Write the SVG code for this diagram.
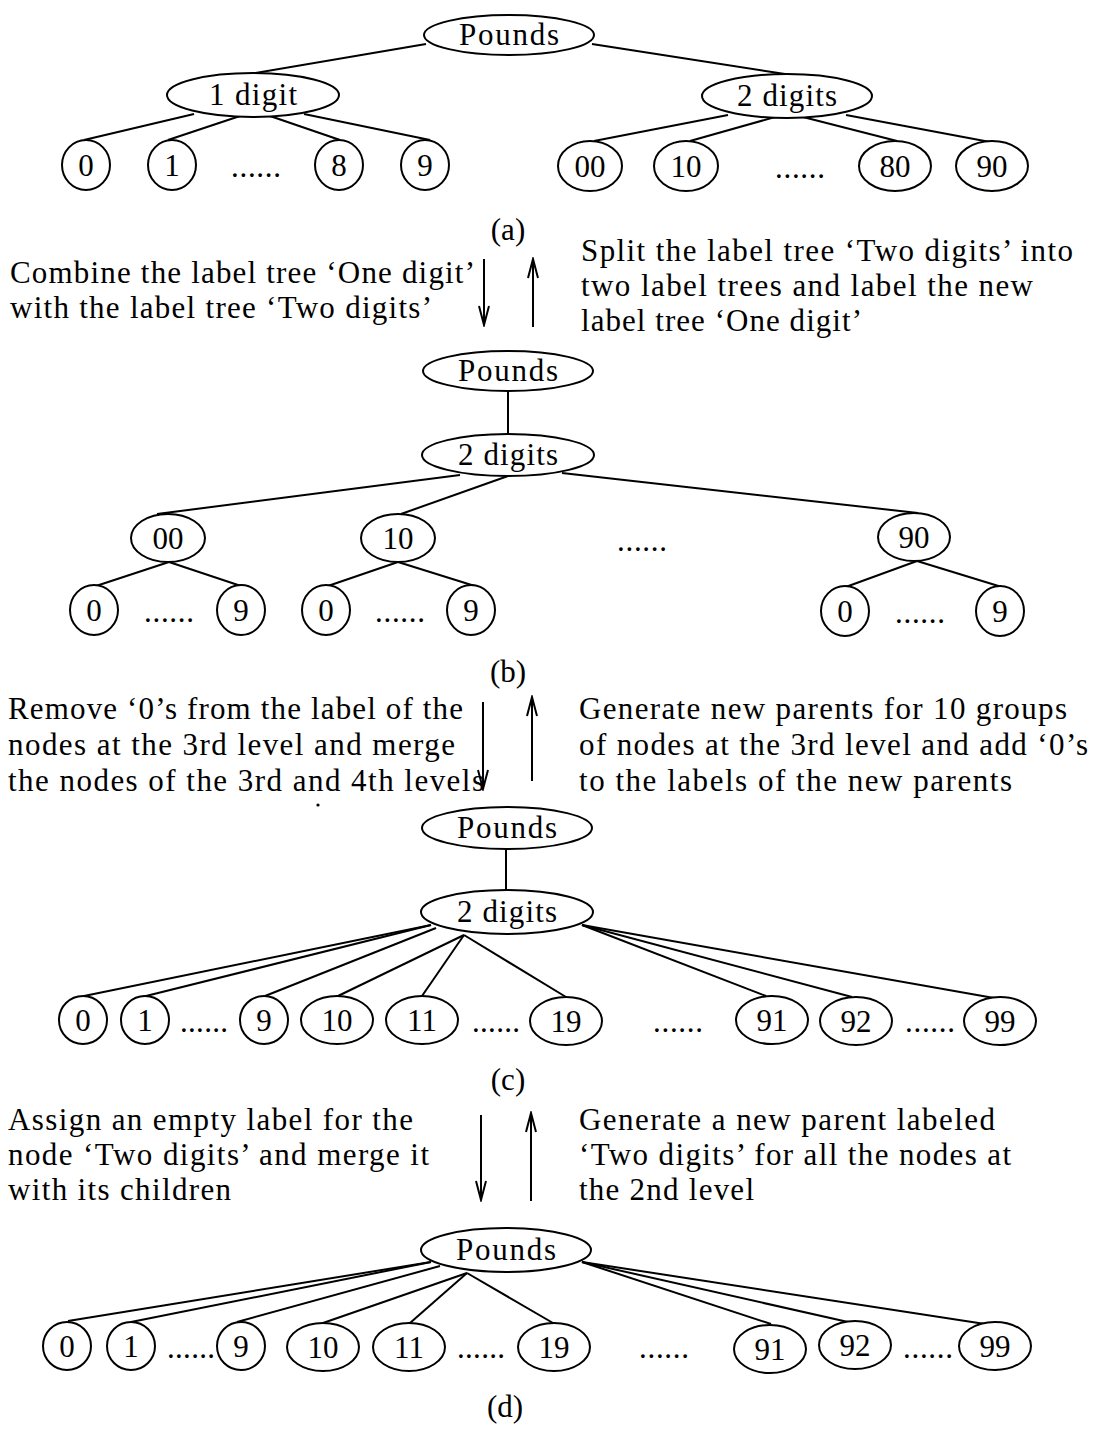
<svg xmlns="http://www.w3.org/2000/svg" width="1101" height="1429" viewBox="0 0 1101 1429">
<defs>
<style>
.n{fill:#fff;stroke:#000;stroke-width:2}
.e{stroke:#000;stroke-width:2;fill:none}
.l{font-family:"Liberation Serif","Times New Roman",serif;font-size:31px;text-anchor:middle;fill:#000}
.p{font-family:"Liberation Serif","Times New Roman",serif;font-size:31px;fill:#000}
</style>
<marker id="ah" markerUnits="userSpaceOnUse" markerWidth="22" markerHeight="14" viewBox="-20 -7 22 14" refX="0" refY="0" orient="auto">
<path d="M-19,-5 L0,0 L-19,5" fill="none" stroke="#000" stroke-width="2"/>
</marker>
</defs>
<rect width="1101" height="1429" fill="#fff"/>

<g id="connectors">
<!-- (a) -->
<line class="e" x1="426" y1="44" x2="250" y2="74"/>
<line class="e" x1="592" y1="44" x2="785" y2="74"/>
<line class="e" x1="194" y1="114" x2="84" y2="140"/>
<line class="e" x1="240" y1="116" x2="168" y2="140"/>
<line class="e" x1="270" y1="116" x2="340" y2="140"/>
<line class="e" x1="304" y1="114" x2="430" y2="140"/>
<line class="e" x1="728" y1="115" x2="594" y2="141"/>
<line class="e" x1="775" y1="117" x2="690" y2="141"/>
<line class="e" x1="803" y1="117" x2="897" y2="141"/>
<line class="e" x1="846" y1="115" x2="990" y2="142"/>
<!-- (b) -->
<line class="e" x1="508" y1="391" x2="508" y2="434"/>
<line class="e" x1="460" y1="475" x2="157" y2="514"/>
<line class="e" x1="508" y1="476" x2="401" y2="514"/>
<line class="e" x1="562" y1="473" x2="918" y2="513"/>
<line class="e" x1="169" y1="562" x2="96" y2="586"/>
<line class="e" x1="169" y1="562" x2="244" y2="587"/>
<line class="e" x1="398" y1="562" x2="325" y2="587"/>
<line class="e" x1="398" y1="562" x2="478" y2="587"/>
<line class="e" x1="917" y1="561" x2="843" y2="588"/>
<line class="e" x1="917" y1="561" x2="1005" y2="588"/>
<!-- (c) -->
<line class="e" x1="506" y1="849" x2="506" y2="891"/>
<line class="e" x1="431" y1="925" x2="84" y2="996"/>
<line class="e" x1="431" y1="925" x2="142" y2="997"/>
<line class="e" x1="436" y1="928" x2="265" y2="996"/>
<line class="e" x1="464" y1="935" x2="338" y2="996"/>
<line class="e" x1="464" y1="935" x2="422" y2="996"/>
<line class="e" x1="464" y1="935" x2="566" y2="997"/>
<line class="e" x1="582" y1="925" x2="766" y2="996"/>
<line class="e" x1="582" y1="925" x2="852" y2="997"/>
<line class="e" x1="582" y1="925" x2="994" y2="998"/>
<!-- (d) -->
<line class="e" x1="431" y1="1262" x2="68" y2="1321"/>
<line class="e" x1="431" y1="1262" x2="131" y2="1322"/>
<line class="e" x1="440" y1="1266" x2="237" y2="1322"/>
<line class="e" x1="467" y1="1273" x2="323" y2="1323"/>
<line class="e" x1="467" y1="1273" x2="410" y2="1323"/>
<line class="e" x1="467" y1="1273" x2="553" y2="1323"/>
<line class="e" x1="582" y1="1262" x2="771" y2="1324"/>
<line class="e" x1="582" y1="1262" x2="848" y2="1322"/>
<line class="e" x1="582" y1="1262" x2="985" y2="1324"/>
</g>

<g id="transition-arrows">
<line class="e" x1="484" y1="259" x2="484" y2="325" marker-end="url(#ah)"/>
<line class="e" x1="533" y1="327" x2="533" y2="259" marker-end="url(#ah)"/>
<line class="e" x1="483" y1="702" x2="483" y2="789" marker-end="url(#ah)"/>
<line class="e" x1="532" y1="781" x2="532" y2="697" marker-end="url(#ah)"/>
<line class="e" x1="481" y1="1115" x2="481" y2="1200" marker-end="url(#ah)"/>
<line class="e" x1="531" y1="1201" x2="531" y2="1113" marker-end="url(#ah)"/>
</g>

<!-- (a) nodes -->
<g id="a-pounds"><ellipse class="n" cx="509" cy="35" rx="85" ry="20"/><text class="l" x="509" y="45" textLength="100">Pounds</text></g>
<g id="a-1digit"><ellipse class="n" cx="253" cy="95" rx="86" ry="22"/><text class="l" x="253" y="105" textLength="88">1 digit</text></g>
<g id="a-2digits"><ellipse class="n" cx="787" cy="96" rx="85" ry="22"/><text class="l" x="787" y="106" textLength="100">2 digits</text></g>
<g id="a-0"><ellipse class="n" cx="86" cy="165" rx="24" ry="25"/><text class="l" x="86" y="176">0</text></g>
<g id="a-1"><ellipse class="n" cx="172" cy="165" rx="24" ry="25"/><text class="l" x="172" y="176">1</text></g>
<g id="a-dots1"><text class="l" x="256" y="177" textLength="50">......</text></g>
<g id="a-8"><ellipse class="n" cx="339" cy="165" rx="24" ry="25"/><text class="l" x="339" y="176">8</text></g>
<g id="a-9"><ellipse class="n" cx="425" cy="165" rx="24" ry="25"/><text class="l" x="425" y="176">9</text></g>
<g id="a-00"><ellipse class="n" cx="590" cy="166" rx="32" ry="25"/><text class="l" x="590" y="177">00</text></g>
<g id="a-10"><ellipse class="n" cx="686" cy="166" rx="32" ry="25"/><text class="l" x="686" y="177">10</text></g>
<g id="a-dots2"><text class="l" x="800" y="178" textLength="50">......</text></g>
<g id="a-80"><ellipse class="n" cx="895" cy="166" rx="36" ry="25"/><text class="l" x="895" y="177">80</text></g>
<g id="a-90"><ellipse class="n" cx="992" cy="166" rx="36" ry="25"/><text class="l" x="992" y="177">90</text></g>
<text class="l" x="508" y="240">(a)</text>

<g id="text-a-b">
<text class="p" x="10" y="283" textLength="465">Combine the label tree ‘One digit’</text>
<text class="p" x="10" y="318" textLength="422">with the label tree ‘Two digits’</text>
<text class="p" x="581" y="261" textLength="492">Split the label tree ‘Two digits’ into</text>
<text class="p" x="581" y="296" textLength="452">two label trees and label the new</text>
<text class="p" x="581" y="331" textLength="281">label tree ‘One digit’</text>
</g>

<!-- (b) nodes -->
<g id="b-pounds"><ellipse class="n" cx="508" cy="371" rx="85" ry="20"/><text class="l" x="508" y="381" textLength="100">Pounds</text></g>
<g id="b-2digits"><ellipse class="n" cx="508" cy="455" rx="86" ry="21"/><text class="l" x="508" y="465" textLength="100">2 digits</text></g>
<g id="b-00"><ellipse class="n" cx="168" cy="538" rx="37" ry="24"/><text class="l" x="168" y="549">00</text></g>
<g id="b-10"><ellipse class="n" cx="398" cy="538" rx="37" ry="24"/><text class="l" x="398" y="549">10</text></g>
<g id="b-dots-mid"><text class="l" x="642" y="551" textLength="50">......</text></g>
<g id="b-90"><ellipse class="n" cx="914" cy="537" rx="36" ry="24"/><text class="l" x="914" y="548">90</text></g>
<g id="b-00-0"><ellipse class="n" cx="94" cy="610" rx="24" ry="25"/><text class="l" x="94" y="621">0</text></g>
<g id="b-00-dots"><text class="l" x="169" y="622" textLength="50">......</text></g>
<g id="b-00-9"><ellipse class="n" cx="241" cy="610" rx="24" ry="25"/><text class="l" x="241" y="621">9</text></g>
<g id="b-10-0"><ellipse class="n" cx="326" cy="610" rx="24" ry="25"/><text class="l" x="326" y="621">0</text></g>
<g id="b-10-dots"><text class="l" x="400" y="622" textLength="50">......</text></g>
<g id="b-10-9"><ellipse class="n" cx="471" cy="610" rx="24" ry="25"/><text class="l" x="471" y="621">9</text></g>
<g id="b-90-0"><ellipse class="n" cx="845" cy="611" rx="24" ry="25"/><text class="l" x="845" y="622">0</text></g>
<g id="b-90-dots"><text class="l" x="920" y="623" textLength="50">......</text></g>
<g id="b-90-9"><ellipse class="n" cx="1000" cy="611" rx="24" ry="25"/><text class="l" x="1000" y="622">9</text></g>
<text class="l" x="508" y="682">(b)</text>

<g id="text-b-c">
<text class="p" x="8" y="719" textLength="455">Remove ‘0’s from the label of the</text>
<text class="p" x="8" y="755" textLength="447">nodes at the 3rd level and merge</text>
<text class="p" x="8" y="791" textLength="476">the nodes of the 3rd and 4th levels</text>
<text class="p" x="579" y="719" textLength="488">Generate new parents for 10 groups</text>
<text class="p" x="579" y="755" textLength="509">of nodes at the 3rd level and add ‘0’s</text>
<text class="p" x="579" y="791" textLength="433">to the labels of the new parents</text>
</g>
<circle cx="318" cy="805" r="1.6" fill="#000"/>

<!-- (c) nodes -->
<g id="c-pounds"><ellipse class="n" cx="507" cy="828" rx="85" ry="21"/><text class="l" x="507" y="838" textLength="100">Pounds</text></g>
<g id="c-2digits"><ellipse class="n" cx="507" cy="912" rx="86" ry="22"/><text class="l" x="507" y="922" textLength="100">2 digits</text></g>
<g id="c-0"><ellipse class="n" cx="83" cy="1020" rx="24" ry="24"/><text class="l" x="83" y="1031">0</text></g>
<g id="c-1"><ellipse class="n" cx="145" cy="1020" rx="24" ry="24"/><text class="l" x="145" y="1031">1</text></g>
<g id="c-dots1"><text class="l" x="204" y="1032" textLength="48">......</text></g>
<g id="c-9"><ellipse class="n" cx="264" cy="1020" rx="24" ry="24"/><text class="l" x="264" y="1031">9</text></g>
<g id="c-10"><ellipse class="n" cx="337" cy="1020" rx="36" ry="24"/><text class="l" x="337" y="1031">10</text></g>
<g id="c-11"><ellipse class="n" cx="422" cy="1020" rx="36" ry="24"/><text class="l" x="422" y="1031">11</text></g>
<g id="c-dots2"><text class="l" x="496" y="1032" textLength="48">......</text></g>
<g id="c-19"><ellipse class="n" cx="566" cy="1021" rx="36" ry="24"/><text class="l" x="566" y="1032">19</text></g>
<g id="c-dots3"><text class="l" x="678" y="1032" textLength="50">......</text></g>
<g id="c-91"><ellipse class="n" cx="772" cy="1020" rx="36" ry="24"/><text class="l" x="772" y="1031">91</text></g>
<g id="c-92"><ellipse class="n" cx="856" cy="1021" rx="36" ry="24"/><text class="l" x="856" y="1032">92</text></g>
<g id="c-dots4"><text class="l" x="930" y="1032" textLength="50">......</text></g>
<g id="c-99"><ellipse class="n" cx="1000" cy="1021" rx="36" ry="24"/><text class="l" x="1000" y="1032">99</text></g>
<text class="l" x="508" y="1090">(c)</text>

<g id="text-c-d">
<text class="p" x="8" y="1130" textLength="405">Assign an empty label for the</text>
<text class="p" x="8" y="1165" textLength="421">node ‘Two digits’ and merge it</text>
<text class="p" x="8" y="1200" textLength="223">with its children</text>
<text class="p" x="579" y="1130" textLength="416">Generate a new parent labeled</text>
<text class="p" x="579" y="1165" textLength="432">‘Two digits’ for all the nodes at</text>
<text class="p" x="579" y="1200" textLength="175">the 2nd level</text>
</g>

<!-- (d) nodes -->
<g id="d-pounds"><ellipse class="n" cx="506" cy="1250" rx="85" ry="22"/><text class="l" x="506" y="1260" textLength="100">Pounds</text></g>
<g id="d-0"><ellipse class="n" cx="67" cy="1346" rx="24" ry="24"/><text class="l" x="67" y="1357">0</text></g>
<g id="d-1"><ellipse class="n" cx="131" cy="1346" rx="24" ry="24"/><text class="l" x="131" y="1357">1</text></g>
<g id="d-dots1"><text class="l" x="191" y="1358" textLength="48">......</text></g>
<g id="d-9"><ellipse class="n" cx="241" cy="1346" rx="24" ry="24"/><text class="l" x="241" y="1357">9</text></g>
<g id="d-10"><ellipse class="n" cx="323" cy="1347" rx="36" ry="24"/><text class="l" x="323" y="1358">10</text></g>
<g id="d-11"><ellipse class="n" cx="409" cy="1347" rx="36" ry="24"/><text class="l" x="409" y="1358">11</text></g>
<g id="d-dots2"><text class="l" x="481" y="1358" textLength="48">......</text></g>
<g id="d-19"><ellipse class="n" cx="554" cy="1347" rx="36" ry="24"/><text class="l" x="554" y="1358">19</text></g>
<g id="d-dots3"><text class="l" x="664" y="1358" textLength="50">......</text></g>
<g id="d-91"><ellipse class="n" cx="770" cy="1349" rx="36" ry="24"/><text class="l" x="770" y="1360">91</text></g>
<g id="d-92"><ellipse class="n" cx="855" cy="1345" rx="36" ry="24"/><text class="l" x="855" y="1356">92</text></g>
<g id="d-dots4"><text class="l" x="928" y="1358" textLength="50">......</text></g>
<g id="d-99"><ellipse class="n" cx="995" cy="1346" rx="36" ry="24"/><text class="l" x="995" y="1357">99</text></g>
<text class="l" x="505" y="1417">(d)</text>
</svg>
